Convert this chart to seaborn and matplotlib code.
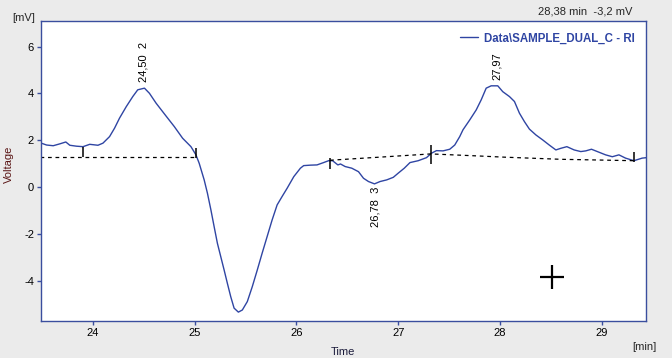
import matplotlib
matplotlib.use("Agg")
import matplotlib.pyplot as plt
import seaborn as sns
import pandas as pd

# ---- data ----
time_min = [23.478, 23.544, 23.609, 23.674, 23.733, 23.772, 23.838, 23.902, 23.968, 24.049,
            24.098, 24.163, 24.212, 24.261, 24.327, 24.391, 24.440, 24.506, 24.555, 24.620,
            24.718, 24.799, 24.881, 24.963, 25.012, 25.044, 25.093, 25.125, 25.159, 25.191,
            25.223, 25.256, 25.289, 25.321, 25.354, 25.387, 25.429, 25.468, 25.517, 25.566,
            25.615, 25.663, 25.712, 25.761, 25.810, 25.859, 25.908, 25.974, 26.039, 26.071,
            26.137, 26.202, 26.267, 26.316, 26.355, 26.407, 26.433, 26.479, 26.544, 26.610,
            26.659, 26.708, 26.767, 26.822, 26.887, 26.952, 27.001, 27.060, 27.116, 27.197,
            27.278, 27.327, 27.376, 27.441, 27.507, 27.556, 27.605, 27.637, 27.703, 27.767,
            27.816, 27.865, 27.914, 27.979, 28.028, 28.094, 28.143, 28.192, 28.241, 28.290,
            28.354, 28.420, 28.485, 28.550, 28.599, 28.658, 28.730, 28.795, 28.844, 28.900,
            28.958, 29.039, 29.105, 29.170, 29.235, 29.317, 29.398, 29.440]
voltage_mv = [1.89, 1.79, 1.76, 1.84, 1.92, 1.78, 1.74, 1.72, 1.82, 1.78,
              1.87, 2.15, 2.51, 2.94, 3.43, 3.86, 4.15, 4.22, 4.00, 3.58,
              3.03, 2.58, 2.08, 1.72, 1.37, 1.01, 0.30, -0.27, -0.98, -1.70,
              -2.41, -2.98, -3.55, -4.12, -4.69, -5.18, -5.35, -5.26, -4.90, -4.26,
              -3.55, -2.83, -2.12, -1.41, -0.77, -0.41, -0.06, 0.44, 0.80, 0.91,
              0.93, 0.94, 1.04, 1.12, 1.12, 0.94, 0.98, 0.87, 0.80, 0.65,
              0.37, 0.23, 0.13, 0.23, 0.30, 0.41, 0.59, 0.80, 1.04, 1.12,
              1.25, 1.44, 1.55, 1.54, 1.61, 1.79, 2.15, 2.44, 2.86, 3.29,
              3.72, 4.22, 4.32, 4.32, 4.07, 3.86, 3.65, 3.15, 2.79, 2.47,
              2.22, 2.01, 1.79, 1.58, 1.65, 1.72, 1.58, 1.51, 1.54, 1.61,
              1.51, 1.37, 1.29, 1.37, 1.23, 1.12, 1.23, 1.25]

base1_t = [23.478, 25.012]
base1_v = [1.27, 1.27]
base2_t = [26.330, 26.850, 27.320, 27.750, 28.050, 28.600, 29.317]
base2_v = [1.14, 1.28, 1.41, 1.33, 1.27, 1.18, 1.12]

marker_t = [23.902, 25.012, 26.330, 27.320, 29.317]
marker_lo = [1.27, 1.24, 0.77, 0.98, 1.08]
marker_hi = [1.71, 1.67, 1.24, 1.79, 1.51]

peak_t = [24.50, 27.97, 26.78]
peak_labels = ["24,50  2", "27,97", "26,78  3"]
peak_label_v = [4.49, 4.57, 0.0]
peak_above = [True, True, False]

cursor_pos = (28.51, -3.83)
series_name = "Data\\SAMPLE_DUAL_C - RI"
cursor_text = "28,38 min  -3,2 mV"
x_ticks = [24, 25, 26, 27, 28, 29]
y_ticks = [-4, -2, 0, 2, 4, 6]

# ---- styling ----
sns.set_style("white")
plt.rcParams["font.family"] = ["Liberation Sans", "DejaVu Sans"]
plt.rcParams["font.size"] = 8

blue = "#2f45a3"
spine_blue = "#3a4e9e"
bg = "#ebebeb"

fig = plt.figure(figsize=(6.72, 3.58), dpi=100, facecolor=bg)
ax = fig.add_axes([41 / 672, 37 / 358, 605 / 672, 300 / 358])
ax.set_facecolor("white")

df = pd.DataFrame({"Time": time_min, "Voltage": voltage_mv})
sns.lineplot(data=df, x="Time", y="Voltage", ax=ax, color=blue, linewidth=1.0,
             sort=False, label=series_name)

ax.plot(base1_t, base1_v, color="black", lw=0.9, dashes=(3, 3))
ax.plot(base2_t, base2_v, color="black", lw=0.9, dashes=(3, 3))
ax.vlines(marker_t, marker_lo, marker_hi, color="black", lw=1.1)

for t, lab, v, above in zip(peak_t, peak_labels, peak_label_v, peak_above):
    ax.text(t, v, lab, rotation=90, ha="center", va="bottom" if above else "top",
            fontsize=8, color="black")

ax.plot([cursor_pos[0]], [cursor_pos[1]], marker="+", markersize=17, mew=1.6,
        color="black", linestyle="none")

ax.set_xlim(23.489, 29.436)
ax.set_ylim(-5.73, 7.09)
ax.set_xticks(x_ticks)
ax.set_yticks(y_ticks)
ax.set_xticklabels([str(v) for v in x_ticks])
ax.set_yticklabels([str(v) for v in y_ticks])
ax.tick_params(axis="both", direction="out", length=3, width=1, color=spine_blue,
               labelsize=8, labelcolor="black", pad=2, bottom=True, left=True)
for s in ax.spines.values():
    s.set_color(spine_blue)
    s.set_linewidth(1.0)
    s.set_visible(True)

ax.set_xlabel("")
ax.set_ylabel("")
fig.text(343 / 672, 1 - 352 / 358, "Time", ha="center", va="center", fontsize=8,
         color="#1a1a3a")
fig.text(644 / 672, 1 - 347 / 358, "[min]", ha="center", va="center", fontsize=8)
fig.text(24 / 672, 1 - 18 / 358, "[mV]", ha="center", va="center", fontsize=8)
fig.text(9 / 672, 1 - 164 / 358, "Voltage", ha="center", va="center", fontsize=8,
         rotation=90, color="#5a1515")
fig.text(585 / 672, 1 - 12 / 358, cursor_text, ha="center", va="center", fontsize=8)

leg = ax.legend(loc="upper right", frameon=False, handlelength=1.6, handletextpad=0.5,
                borderaxespad=0.6, prop={"weight": "bold", "size": 8.3},
                labelcolor=blue)

fig.savefig("out.png", dpi=100, facecolor=bg)
